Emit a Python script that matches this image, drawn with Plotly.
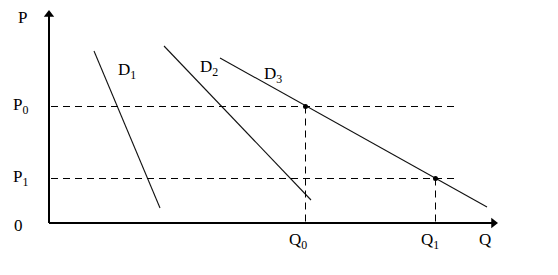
import plotly.graph_objects as go

# Data (economic units: Q on x, P on y; 1 unit = 10 px)
d1_q = [4.5, 11.1]
d1_p = [17.2, 1.5]
d2_q = [11.5, 26.2]
d2_p = [17.7, 2.3]
d3_q = [17.1, 43.8]
d3_p = [16.5, 1.6]
Q0, Q1 = 25.65, 38.65
P0, P1 = 11.65, 4.45
dash_q = [0.2, 40.6]
axis_q_max = 44.9
axis_p_max = 21.3

font = dict(family="Liberation Serif", size=17, color="black")

fig = go.Figure()
line_style = dict(color="#111", width=1.1)
for q, p in [(d1_q, d1_p), (d2_q, d2_p), (d3_q, d3_p)]:
    fig.add_trace(go.Scatter(x=q, y=p, mode="lines", line=line_style, hoverinfo="skip"))

dash = dict(color="black", width=1, dash="7px,5px")
fig.add_trace(go.Scatter(x=dash_q, y=[P0, P0], mode="lines", line=dash))
fig.add_trace(go.Scatter(x=dash_q, y=[P1, P1], mode="lines", line=dash))
fig.add_trace(go.Scatter(x=[Q0, Q0], y=[P0, 0], mode="lines", line=dash))
fig.add_trace(go.Scatter(x=[Q1, Q1], y=[P1, 0], mode="lines", line=dash))

# axes
fig.add_trace(go.Scatter(x=[0, 0], y=[0, axis_p_max - 0.5], mode="lines", line=dict(color="black", width=2)))
fig.add_trace(go.Scatter(x=[0, axis_q_max - 0.5], y=[0, 0], mode="lines", line=dict(color="black", width=2)))
fig.add_trace(go.Scatter(x=[0], y=[axis_p_max - 0.45], mode="markers",
                         marker=dict(symbol="triangle-up", size=9, color="black")))
fig.add_trace(go.Scatter(x=[axis_q_max - 0.45], y=[0], mode="markers",
                         marker=dict(symbol="triangle-right", size=9, color="black")))

# equilibrium points
fig.add_trace(go.Scatter(x=[Q0, Q1], y=[P0, P1], mode="markers",
                         marker=dict(size=5, color="black")))

sub = lambda s: f"<sub>{s}</sub>"
labels = [
    ("P", -3.3, 20.6),
    ("P" + sub("0"), -3.8, P0 + 0.1),
    ("P" + sub("1"), -3.8, P1 + 0.1),
    ("0", -3.7, -0.2),
    ("D" + sub("1"), 6.7, 15.2),
    ("D" + sub("2"), 14.9, 15.5),
    ("D" + sub("3"), 21.3, 14.8),
    ("Q" + sub("0"), 23.8, -1.8),
    ("Q" + sub("1"), 37.0, -1.8),
    ("Q", 42.8, -1.6),
]
for t, x, y in labels:
    fig.add_annotation(x=x, y=y, text=t, showarrow=False, font=font,
                       xanchor="left", yanchor="middle")

fig.update_layout(
    width=558, height=275, margin=dict(l=0, r=0, t=0, b=0),
    paper_bgcolor="white", plot_bgcolor="white", showlegend=False,
    xaxis=dict(range=[-4.9, 50.9], visible=False, fixedrange=True),
    yaxis=dict(range=[-5.2, 22.3], visible=False, fixedrange=True),
)
fig.write_html("out.html")
